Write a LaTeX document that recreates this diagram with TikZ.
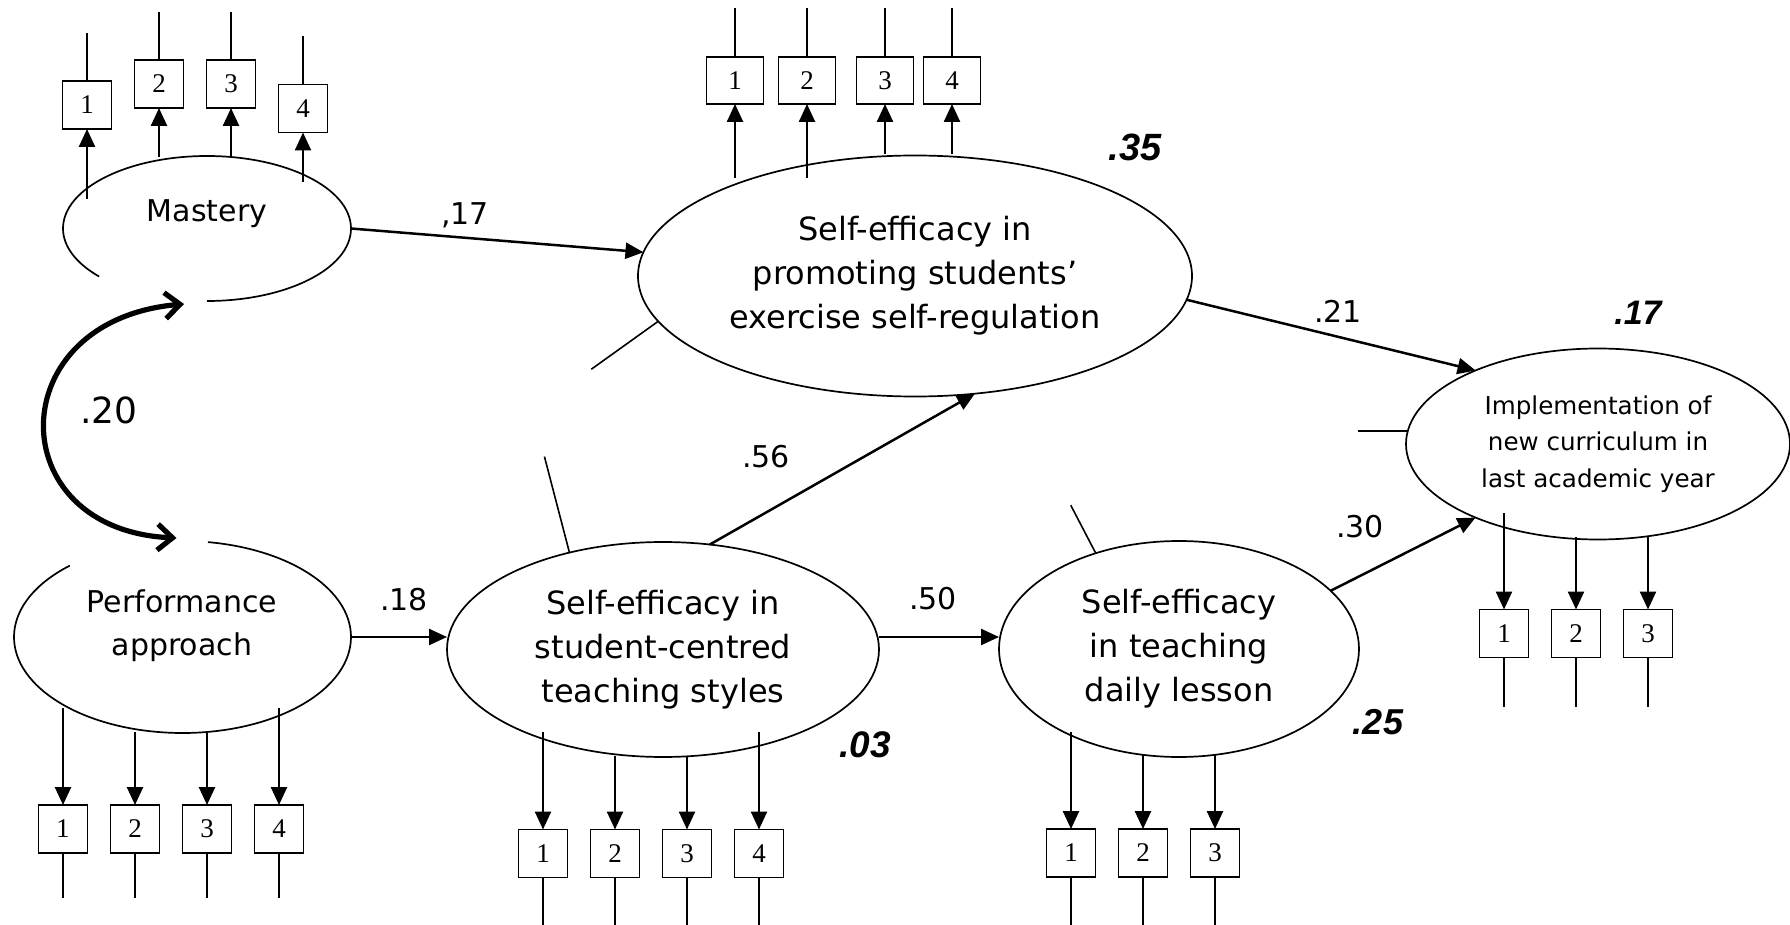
\documentclass[tikz,border=0pt]{standalone}
\usepackage{fontspec}
\setmainfont{DejaVu Sans}
\newfontfamily\boxfont{Liberation Serif}
\newfontfamily\rfont{Liberation Sans}
\usetikzlibrary{arrows.meta,shapes.geometric,calc}
\begin{document}
\begin{tikzpicture}[x=0.5pt,y=-0.5pt,
  latent/.style={ellipse,inner sep=0pt,outer sep=0pt,align=center},
  lbox/.style={latent,draw,line width=0.85pt},
  ltext/.style={font=\fontsize{16}{22}\selectfont},
  ind/.style={draw,line width=0.9pt,minimum width=24.5pt,minimum height=24pt,inner sep=0pt,outer sep=0pt,font=\boxfont\fontsize{13.5}{15}\selectfont},
  wind/.style={ind,minimum width=28.5pt,minimum height=23.5pt},
  pth/.style={line width=1.25pt,-{Triangle[length=9pt,width=8pt]}},
  err/.style={line width=0.8pt},
  ell/.style={line width=0.85pt},
  coef/.style={font=\fontsize{15}{18}\selectfont},
  rsq/.style={font=\rfont\bfseries\itshape\fontsize{19}{22}\selectfont},
  dbl/.style={line width=2.6pt,{Straight Barb[length=7.5pt,width=13pt]}-{Straight Barb[length=7.5pt,width=13pt]}}
]
\useasboundingbox (0,0) rectangle (1790,925);

% latent variables
\node[latent,minimum width=144pt,minimum height=72.5pt] (mas) at (207,228.5) {};
\node[font=\fontsize{15}{21.5}\selectfont] (mastext) at (207,214) {Mastery};
\node[latent,minimum width=168.5pt,minimum height=96pt] (perf) at (182.5,637) {};
\node[font=\fontsize{15}{21.5}\selectfont,align=center] (perftext) at (182,626) {Performance\\approach};
\node[lbox,ltext,minimum width=277pt,minimum height=120.5pt] (sep) at (915,276) {Self-efficacy in\\promoting students'\\exercise self-regulation};
\node[lbox,ltext,minimum width=216pt,minimum height=107.5pt] (sc) at (663,649.5) {Self-efficacy in\\student-centred\\teaching styles};
\node[lbox,ltext,minimum width=180pt,minimum height=108pt] (dl) at (1179,649) {Self-efficacy\\in teaching\\daily lesson};
\node[lbox,font=\fontsize{12.3}{18.25}\selectfont,minimum width=192pt,minimum height=95.5pt] (impl) at (1598,444) {Implementation of\\new curriculum in\\last academic year};

% broken ellipses
\draw[ell] (mas.center) ++(270:72pt and 36.25pt) arc[start angle=270,end angle=581.5,x radius=72pt,y radius=36.25pt];
\draw[ell] (perf.center) ++(132:84.25pt and 48pt) arc[start angle=132,end angle=441.3,x radius=84.25pt,y radius=48pt];

% mastery indicators
\node[ind] (m1) at (87,105) {1};
\node[ind] (m2) at (159,84) {2};
\node[ind] (m3) at (231,84) {3};
\node[ind] (m4) at (303,108.5) {4};
\draw[pth] ($(m1.south)+(0,70)$) -- (m1.south);
\draw[pth] ($(m2.south)+(0,49)$) -- (m2.south);
\draw[pth] ($(m3.south)+(0,49)$) -- (m3.south);
\draw[pth] ($(m4.south)+(0,49.5)$) -- (m4.south);
\foreach \b in {m1,m2,m3,m4} \draw[err] (\b.north) -- ++(0,-48);

% SEP indicators
\node[wind] (s1) at (735,80.5) {1};
\node[wind] (s2) at (807,80.5) {2};
\node[wind] (s3) at (885,80.5) {3};
\node[wind] (s4) at (952,80.5) {4};
\draw[pth] ($(s1.south)+(0,74)$) -- (s1.south);
\draw[pth] ($(s2.south)+(0,74)$) -- (s2.south);
\draw[pth] ($(s3.south)+(0,50)$) -- (s3.south);
\draw[pth] ($(s4.south)+(0,50)$) -- (s4.south);
\foreach \b in {s1,s2,s3,s4} \draw[err] (\b.north) -- ++(0,-49);

% performance indicators
\node[ind] (p1) at (63,829) {1};
\node[ind] (p2) at (135,829) {2};
\node[ind] (p3) at (207,829) {3};
\node[ind] (p4) at (279,829) {4};
\draw[pth] ($(p1.north)+(0,-97)$) -- (p1.north);
\draw[pth] ($(p2.north)+(0,-73)$) -- (p2.north);
\draw[pth] ($(p3.north)+(0,-73)$) -- (p3.north);
\draw[pth] ($(p4.north)+(0,-97)$) -- (p4.north);
\foreach \b in {p1,p2,p3,p4} \draw[err] (\b.south) -- ++(0,45);

% SC indicators
\node[ind] (c1) at (543,853.5) {1};
\node[ind] (c2) at (615,853.5) {2};
\node[ind] (c3) at (687,853.5) {3};
\node[ind] (c4) at (759,853.5) {4};
\draw[pth] ($(c1.north)+(0,-97.5)$) -- (c1.north);
\draw[pth] ($(c2.north)+(0,-73.5)$) -- (c2.north);
\draw[pth] ($(c3.north)+(0,-73.5)$) -- (c3.north);
\draw[pth] ($(c4.north)+(0,-97.5)$) -- (c4.north);
\foreach \b in {c1,c2,c3,c4} \draw[err] (\b.south) -- ++(0,48);

% DL indicators
\node[ind] (d1) at (1071,853) {1};
\node[ind] (d2) at (1143,853) {2};
\node[ind] (d3) at (1215,853) {3};
\draw[pth] ($(d1.north)+(0,-97)$) -- (d1.north);
\draw[pth] ($(d2.north)+(0,-74)$) -- (d2.north);
\draw[pth] ($(d3.north)+(0,-74)$) -- (d3.north);
\foreach \b in {d1,d2,d3} \draw[err] (\b.south) -- ++(0,48);

% implementation indicators
\node[ind] (i1) at (1504,633.5) {1};
\node[ind] (i2) at (1576,633.5) {2};
\node[ind] (i3) at (1648,633.5) {3};
\draw[pth] ($(i1.north)+(0,-96.5)$) -- (i1.north);
\draw[pth] ($(i2.north)+(0,-72.5)$) -- (i2.north);
\draw[pth] ($(i3.north)+(0,-72.5)$) -- (i3.north);
\foreach \b in {i1,i2,i3} \draw[err] (\b.south) -- ++(0,49);

% structural paths
\draw[pth] (mas.east) -- (sep.175);
\draw[pth] (sep.355) -- (impl.149);
\draw[pth] (sc.66) -- (sep.297);
\draw[pth] (perf.east) -- (perf.east -| sc.west);
\draw[pth] (sc.east |- perf.east) -- (dl.west |- perf.east);
\draw[pth] (dl.21) -- (impl.211);

% disturbances
\draw[err] (sep.190) -- ++(-67,48);
\draw[err] (sc.134) -- ++(-25,-96);
\draw[err] (dl.131) -- ++(-25,-48);
\draw[err] (impl.176) -- ++(-50,0);

% correlation
\draw[dbl] ($(mas.south)+(-23,3)$) .. controls (0,320) and (0,530) .. ($(perf.north)+(-6,-3)$);

% coefficients
\node[coef] (l17) at (465,215) {,17};
\node[coef] (l21) at (1338,311) {.21};
\node[coef] (l56) at (766,457) {.56};
\node[coef] (l18) at (404,600) {.18};
\node[coef] (l50) at (933,599) {.50};
\node[coef] (l30) at (1360,527) {.30};
\node[font=\fontsize{18}{20}\selectfont] (l20) at (109,410) {.20};

% R squared
\node[rsq] (r35) at (1135,147) {.35};
\node[rsq,font=\rfont\bfseries\itshape\fontsize{18.5}{22}\selectfont] (r03) at (865,745) {.03};
\node[rsq,font=\rfont\bfseries\itshape\fontsize{18}{22}\selectfont] (r25) at (1378,722) {.25};
\node[rsq,font=\rfont\bfseries\itshape\fontsize{17}{22}\selectfont] (r17) at (1638,313) {.17};
\end{tikzpicture}
\end{document}
